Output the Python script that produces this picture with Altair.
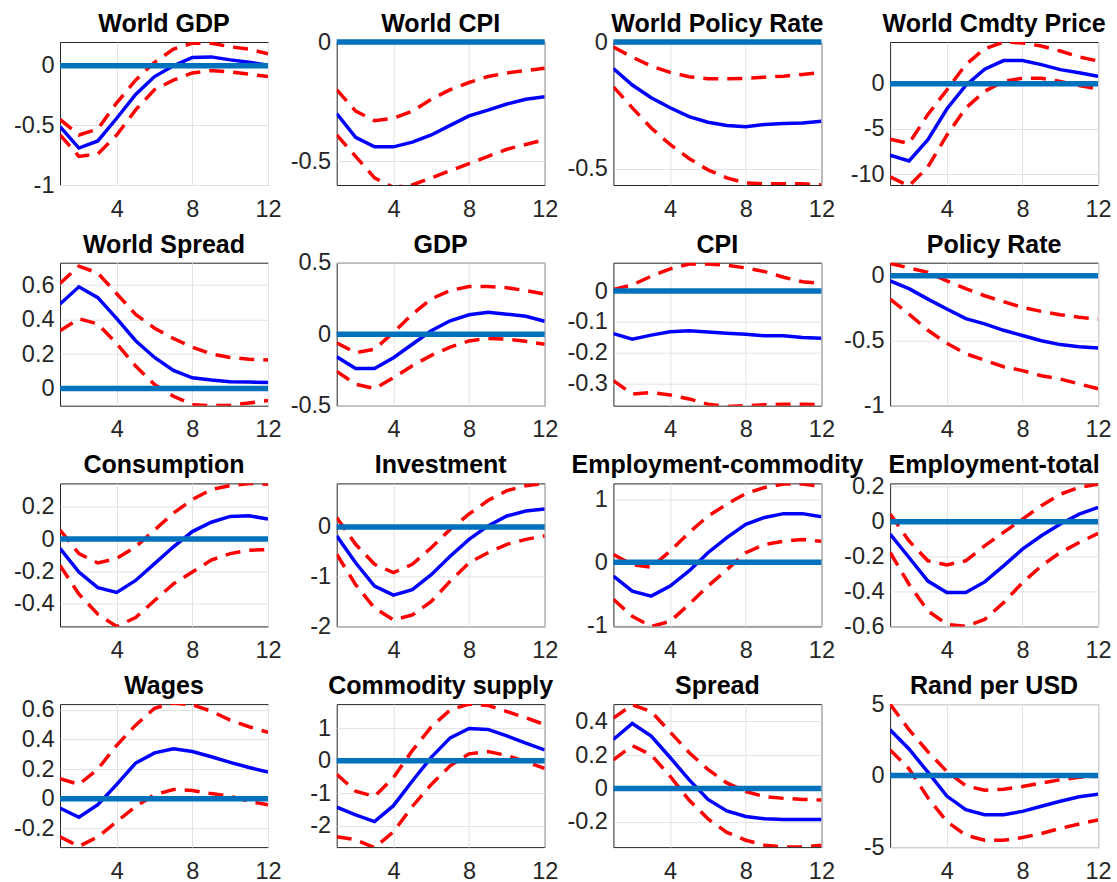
import altair as alt
import pandas as pd

# Impulse responses over a 12-quarter horizon: median (solid) and bands (dashed)
HORIZON = list(range(1, 13))
X_TICKS = [4, 8, 12]

world_gdp_mid = [-0.51, -0.69, -0.63, -0.44, -0.24, -0.09, 0.0, 0.07, 0.075, 0.05, 0.03, 0.005]
world_gdp_hi = [-0.45, -0.58, -0.53, -0.31, -0.12, 0.03, 0.14, 0.19, 0.19, 0.16, 0.14, 0.10]
world_gdp_lo = [-0.58, -0.76, -0.74, -0.58, -0.37, -0.20, -0.12, -0.06, -0.04, -0.05, -0.07, -0.09]

world_cpi_mid = [-0.30, -0.40, -0.44, -0.44, -0.42, -0.39, -0.35, -0.31, -0.286, -0.26, -0.24, -0.23]
world_cpi_hi = [-0.20, -0.29, -0.33, -0.32, -0.29, -0.24, -0.20, -0.17, -0.145, -0.13, -0.12, -0.11]
world_cpi_lo = [-0.39, -0.48, -0.57, -0.61, -0.60, -0.57, -0.54, -0.51, -0.48, -0.45, -0.43, -0.41]

world_rate_mid = [-0.105, -0.17, -0.22, -0.26, -0.295, -0.317, -0.33, -0.335, -0.326, -0.322, -0.32, -0.313]
world_rate_hi = [-0.02, -0.06, -0.095, -0.12, -0.137, -0.145, -0.145, -0.144, -0.139, -0.135, -0.128, -0.12]
world_rate_lo = [-0.177, -0.26, -0.34, -0.405, -0.46, -0.505, -0.537, -0.557, -0.56, -0.56, -0.56, -0.565]

world_cmdty_mid = [-7.9, -8.55, -6.2, -2.8, -0.2, 1.6, 2.55, 2.55, 2.1, 1.55, 1.2, 0.8]
world_cmdty_hi = [-6.15, -6.6, -3.4, -0.7, 2.1, 3.85, 4.6, 4.5, 4.15, 3.6, 2.95, 2.5]
world_cmdty_lo = [-10.3, -11.3, -9.2, -5.7, -2.7, -0.85, 0.25, 0.6, 0.6, 0.25, -0.2, -0.6]

world_spread_mid = [0.49, 0.59, 0.527, 0.405, 0.277, 0.18, 0.105, 0.062, 0.049, 0.039, 0.037, 0.035]
world_spread_hi = [0.61, 0.71, 0.67, 0.55, 0.43, 0.35, 0.29, 0.24, 0.20, 0.18, 0.17, 0.165]
world_spread_lo = [0.335, 0.405, 0.375, 0.26, 0.13, 0.023, -0.045, -0.094, -0.10, -0.098, -0.084, -0.07]

gdp_mid = [-0.158, -0.24, -0.24, -0.165, -0.07, 0.024, 0.094, 0.136, 0.153, 0.14, 0.125, 0.09]
gdp_hi = [-0.06, -0.13, -0.105, 0.012, 0.14, 0.247, 0.305, 0.334, 0.334, 0.325, 0.305, 0.28]
gdp_lo = [-0.26, -0.35, -0.38, -0.305, -0.22, -0.148, -0.09, -0.047, -0.03, -0.035, -0.05, -0.07]

cpi_mid = [-0.138, -0.156, -0.143, -0.132, -0.129, -0.133, -0.137, -0.14, -0.145, -0.145, -0.151, -0.153]
cpi_hi = [0.005, 0.02, 0.048, 0.072, 0.088, 0.088, 0.084, 0.075, 0.063, 0.045, 0.03, 0.025]
cpi_lo = [-0.291, -0.334, -0.329, -0.337, -0.35, -0.367, -0.375, -0.372, -0.369, -0.367, -0.367, -0.369]

rate_mid = [-0.04, -0.10, -0.18, -0.256, -0.33, -0.37, -0.42, -0.46, -0.50, -0.53, -0.546, -0.556]
rate_hi = [0.095, 0.06, 0.026, -0.04, -0.10, -0.154, -0.20, -0.244, -0.275, -0.30, -0.32, -0.333]
rate_lo = [-0.18, -0.295, -0.42, -0.52, -0.60, -0.65, -0.70, -0.73, -0.77, -0.795, -0.833, -0.87]

cons_mid = [-0.058, -0.204, -0.30, -0.33, -0.256, -0.152, -0.048, 0.046, 0.104, 0.14, 0.144, 0.123]
cons_hi = [0.056, -0.09, -0.148, -0.12, -0.048, 0.056, 0.16, 0.244, 0.306, 0.33, 0.344, 0.338]
cons_lo = [-0.163, -0.34, -0.465, -0.54, -0.485, -0.38, -0.277, -0.204, -0.13, -0.09, -0.069, -0.065]

inv_mid = [-0.18, -0.72, -1.19, -1.37, -1.26, -0.96, -0.59, -0.25, 0.02, 0.22, 0.32, 0.36]
inv_hi = [0.19, -0.35, -0.75, -0.92, -0.75, -0.42, -0.05, 0.26, 0.53, 0.73, 0.83, 0.875]
inv_lo = [-0.55, -1.16, -1.63, -1.87, -1.77, -1.50, -1.09, -0.72, -0.52, -0.35, -0.25, -0.18]

emp_cmdty_mid = [-0.22, -0.46, -0.54, -0.38, -0.14, 0.15, 0.39, 0.60, 0.71, 0.77, 0.77, 0.72]
emp_cmdty_hi = [0.12, -0.04, -0.08, 0.175, 0.47, 0.73, 0.92, 1.09, 1.185, 1.24, 1.24, 1.20]
emp_cmdty_lo = [-0.59, -0.86, -1.02, -0.94, -0.67, -0.38, -0.12, 0.15, 0.28, 0.33, 0.36, 0.33]

emp_total_mid = [-0.07, -0.205, -0.34, -0.406, -0.406, -0.345, -0.253, -0.157, -0.08, -0.013, 0.044, 0.082]
emp_total_hi = [0.044, -0.11, -0.224, -0.247, -0.224, -0.138, -0.061, 0.015, 0.092, 0.158, 0.197, 0.216]
emp_total_lo = [-0.176, -0.358, -0.511, -0.588, -0.60, -0.56, -0.464, -0.349, -0.253, -0.176, -0.119, -0.067]

wages_mid = [-0.064, -0.126, -0.041, 0.096, 0.24, 0.309, 0.336, 0.318, 0.283, 0.245, 0.21, 0.18]
wages_hi = [0.135, 0.096, 0.20, 0.36, 0.496, 0.61, 0.645, 0.633, 0.59, 0.53, 0.485, 0.447]
wages_lo = [-0.258, -0.322, -0.258, -0.155, -0.053, 0.027, 0.062, 0.055, 0.034, 0.016, -0.018, -0.041]

supply_mid = [-1.43, -1.67, -1.875, -1.385, -0.625, 0.10, 0.70, 0.99, 0.96, 0.76, 0.54, 0.33]
supply_hi = [-0.42, -0.94, -1.10, -0.52, 0.31, 1.04, 1.56, 1.74, 1.70, 1.51, 1.32, 1.11]
supply_lo = [-2.34, -2.43, -2.68, -2.19, -1.41, -0.73, -0.16, 0.21, 0.28, 0.16, -0.03, -0.24]

spread_mid = [0.293, 0.388, 0.313, 0.185, 0.053, -0.065, -0.134, -0.167, -0.181, -0.185, -0.185, -0.185]
spread_hi = [0.42, 0.50, 0.46, 0.337, 0.215, 0.114, 0.033, -0.018, -0.049, -0.059, -0.065, -0.069]
spread_lo = [0.171, 0.256, 0.20, 0.073, -0.069, -0.181, -0.262, -0.309, -0.339, -0.35, -0.35, -0.339]

rand_mid = [3.2, 1.86, 0.24, -1.43, -2.38, -2.74, -2.74, -2.5, -2.14, -1.79, -1.48, -1.31]
rand_hi = [5.0, 3.21, 1.67, 0.29, -0.71, -1.02, -0.95, -0.76, -0.52, -0.29, -0.12, -0.05]
rand_lo = [1.79, 0.48, -1.55, -3.21, -4.17, -4.52, -4.52, -4.33, -4.05, -3.69, -3.38, -3.10]

# title, median, lower band, upper band, y range, y tick values
PANELS = [
    ("World GDP", world_gdp_mid, world_gdp_lo, world_gdp_hi, [-1, 0.2], [-1, -0.5, 0]),
    ("World CPI", world_cpi_mid, world_cpi_lo, world_cpi_hi, [-0.6, 0], [-0.5, 0]),
    ("World Policy Rate", world_rate_mid, world_rate_lo, world_rate_hi, [-0.565, 0], [-0.5, 0]),
    ("World Cmdty Price", world_cmdty_mid, world_cmdty_lo, world_cmdty_hi, [-11.2, 4.6], [-10, -5, 0]),
    ("World Spread", world_spread_mid, world_spread_lo, world_spread_hi, [-0.1, 0.73], [0, 0.2, 0.4, 0.6]),
    ("GDP", gdp_mid, gdp_lo, gdp_hi, [-0.5, 0.5], [-0.5, 0, 0.5]),
    ("CPI", cpi_mid, cpi_lo, cpi_hi, [-0.372, 0.092], [-0.3, -0.2, -0.1, 0]),
    ("Policy Rate", rate_mid, rate_lo, rate_hi, [-1, 0.1], [-1, -0.5, 0]),
    ("Consumption", cons_mid, cons_lo, cons_hi, [-0.54, 0.344], [-0.4, -0.2, 0, 0.2]),
    ("Investment", inv_mid, inv_lo, inv_hi, [-2, 0.875], [-2, -1, 0]),
    ("Employment-commodity", emp_cmdty_mid, emp_cmdty_lo, emp_cmdty_hi, [-1.02, 1.25], [-1, 0, 1]),
    ("Employment-total", emp_total_mid, emp_total_lo, emp_total_hi, [-0.6, 0.22], [-0.6, -0.4, -0.2, 0, 0.2]),
    ("Wages", wages_mid, wages_lo, wages_hi, [-0.327, 0.638], [-0.2, 0, 0.2, 0.4, 0.6]),
    ("Commodity supply", supply_mid, supply_lo, supply_hi, [-2.66, 1.74], [-2, -1, 0, 1]),
    ("Spread", spread_mid, spread_lo, spread_hi, [-0.35, 0.504], [-0.2, 0, 0.2, 0.4]),
    ("Rand per USD", rand_mid, rand_lo, rand_hi, [-5, 5], [-5, 0, 5]),
]

PLOT_W, PLOT_H = 208, 143
FONT = "Liberation Sans"


def panel(title, mid, lo, hi, domain, ticks):
    rows = []
    for series, vals in (("lo", lo), ("hi", hi), ("mid", mid), ("zero", [0] * len(HORIZON))):
        for h, v in zip(HORIZON, vals):
            rows.append({"h": h, "value": v, "series": series})
    df = pd.DataFrame(rows)

    x = alt.X(
        "h:Q",
        scale=alt.Scale(domain=[1, 12], nice=False, zero=False),
        axis=alt.Axis(values=X_TICKS, title=None, labelPadding=12, labelFlush=False),
    )
    y = alt.Y(
        "value:Q",
        scale=alt.Scale(domain=domain, nice=False, zero=False),
        axis=alt.Axis(values=ticks, title=None, labelExpr="'' + datum.value",
                      labelPadding=6, labelFlush=False),
    )
    base = alt.Chart(df).encode(x=x, y=y)

    def band(name):
        return base.transform_filter(alt.datum.series == name).mark_line(
            color="#FF0000", strokeWidth=3.5, strokeDash=[15, 9], clip=True
        )

    median = base.transform_filter(alt.datum.series == "mid").mark_line(
        color="#0000FF", strokeWidth=3.5, clip=True
    )
    zero = base.transform_filter(alt.datum.series == "zero").mark_line(
        color="#0072BD", strokeWidth=5.5
    )
    heading = (
        alt.Chart(pd.DataFrame({"label": [title]}))
        .mark_text(font=FONT, fontSize=25, fontWeight="bold", color="#000000",
                   align="center", baseline="alphabetic")
        .encode(text="label:N", x=alt.value(PLOT_W / 2), y=alt.value(-10))
    )
    return alt.layer(band("lo"), band("hi"), median, zero, heading).properties(
        width=PLOT_W, height=PLOT_H
    )


charts = [panel(*p) for p in PANELS]
chart = (
    alt.concat(*charts, columns=4, spacing={"row": 77.7, "column": 68.7}, bounds="flush")
    .properties(padding={"left": 13, "top": 11, "right": 5, "bottom": 8}, background="white")
    .configure_view(stroke="#262626", strokeWidth=1)
    .configure_axis(
        labelFont=FONT,
        labelFontSize=23.5,
        labelColor="#262626",
        grid=True,
        gridColor="#e2e2e2",
        gridWidth=1,
        domain=False,
        ticks=False,
    )
)

chart.save("out.html", embed_options={"renderer": "svg", "actions": False})
